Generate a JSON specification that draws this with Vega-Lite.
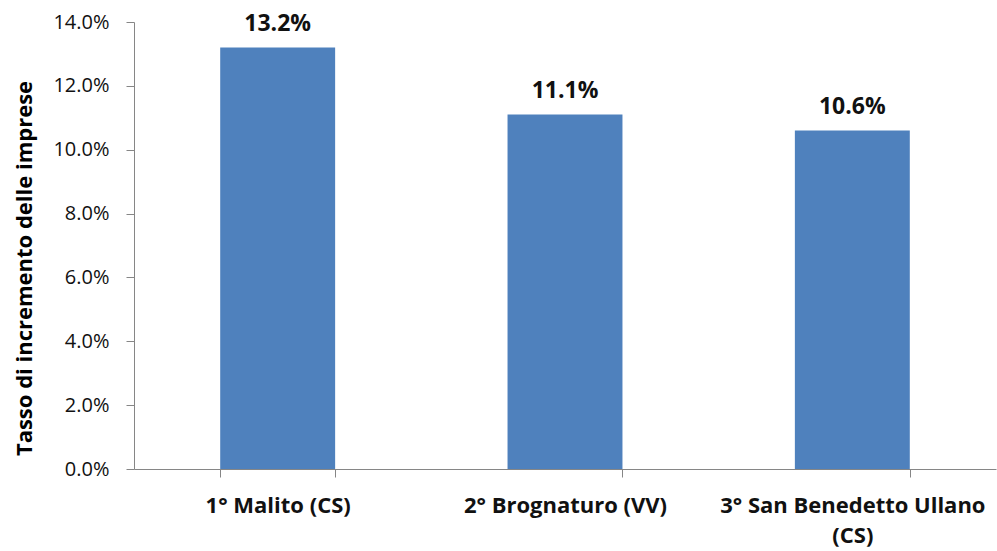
{
  "$schema": "https://vega.github.io/schema/vega-lite/v6.json",
  "autosize": "none",
  "width": 862,
  "height": 447,
  "padding": {"left": 134, "top": 22, "right": 1, "bottom": 82},
  "background": "white",
  "config": {"view": {"stroke": null}, "font": "Open Sans"},
  "data": {"values": [
    {"comune": "1° Malito (CS)", "tasso": 0.132},
    {"comune": "2° Brognaturo (VV)", "tasso": 0.111},
    {"comune": "3° San Benedetto Ullano (CS)", "tasso": 0.106}
  ]},
  "encoding": {
    "x": {"field": "comune", "type": "nominal", "sort": null,
      "scale": {"paddingInner": 0.6, "paddingOuter": 0.3},
      "axis": {"title": null, "labelAngle": 0, "labelFont": "Open Sans", "labelFontSize": 22, "labelFontWeight": "bold", "labelColor": "#111",
        "labelPadding": 18, "labelLineHeight": 30, "tickBand": "extent", "tickSize": 8, "tickColor": "#868686", "domainColor": "#868686", "labelLimit": 400,
        "labelExpr": "datum.label == '3° San Benedetto Ullano (CS)' ? ['3° San Benedetto Ullano', '(CS)'] : datum.label"}},
    "y": {"field": "tasso", "type": "quantitative",
      "scale": {"domain": [0, 0.14]},
      "axis": {"title": "Tasso di incremento delle imprese", "format": ".1%", "values": [0, 0.02, 0.04, 0.06, 0.08, 0.1, 0.12, 0.14],
        "grid": false, "labelFont": "Open Sans", "labelFontSize": 20, "labelColor": "#111", "labelPadding": 17, "tickSize": 8,
        "tickColor": "#868686", "domainColor": "#868686",
        "titleFont": "Open Sans", "titleFontSize": 22, "titleFontWeight": "bold", "titleColor": "#000", "titlePadding": 16, "titleY": 246}}
  },
  "layer": [
    {"mark": {"type": "bar", "color": "#4F81BD"}},
    {"mark": {"type": "text", "baseline": "alphabetic", "dy": -17, "font": "Open Sans", "fontSize": 23, "fontWeight": "bold", "color": "#111"},
      "encoding": {"text": {"field": "tasso", "type": "quantitative", "format": ".1%"}}}
  ]
}
